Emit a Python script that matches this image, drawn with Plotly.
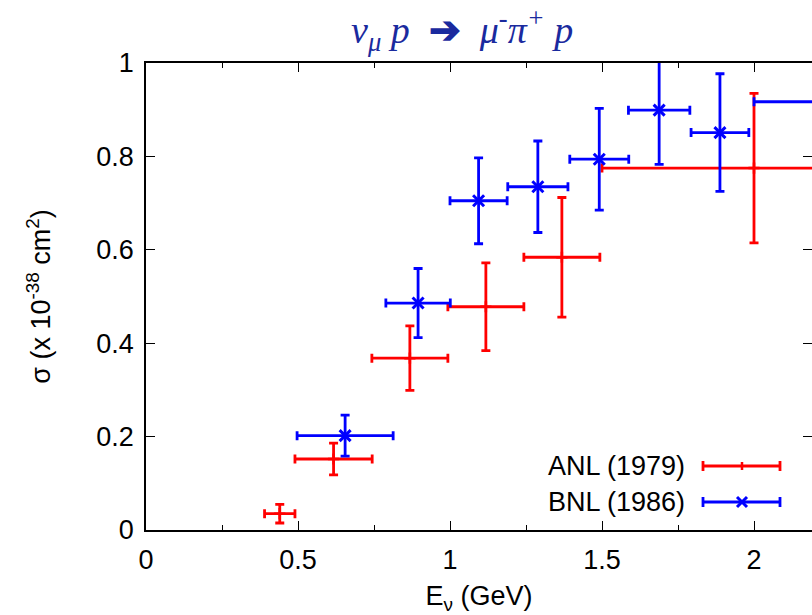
import plotly.graph_objects as go

# ANL (1979)
anl_x = [0.44, 0.617, 0.868, 1.118, 1.368, 2.0]
anl_xerr = [0.05, 0.127, 0.125, 0.125, 0.125, 0.5]
anl_y = [0.035, 0.152, 0.368, 0.478, 0.584, 0.775]
anl_yerr = [0.02, 0.034, 0.069, 0.094, 0.128, 0.16]

# BNL (1986)
bnl_x = [0.655, 0.895, 1.094, 1.289, 1.491, 1.688, 1.888, 2.25]
bnl_xerr = [0.158, 0.106, 0.094, 0.099, 0.097, 0.101, 0.095, 0.25]
bnl_y = [0.202, 0.486, 0.705, 0.735, 0.794, 0.899, 0.851, 0.917]
bnl_yerr = [0.044, 0.074, 0.092, 0.098, 0.109, 0.116, 0.126, 0.1]

x_ticks = [0, 0.5, 1, 1.5, 2]
x_ticklabels = ["0", "0.5", "1", "1.5", "2"]
y_ticks = [0, 0.2, 0.4, 0.6, 0.8, 1]
y_ticklabels = ["0", "0.2", "0.4", "0.6", "0.8", "1"]

RED = "#ff0000"
BLUE = "#0000ff"
FONT = "Liberation Sans"
FS = 27

fig = go.Figure()
fig.add_trace(go.Scatter(
    x=anl_x, y=anl_y, mode="markers", name="ANL (1979)",
    marker=dict(symbol="cross-thin-open", size=8, line=dict(color=RED, width=2.5), color=RED),
    error_x=dict(type="data", array=anl_xerr, color=RED, thickness=2.8, width=4.5),
    error_y=dict(type="data", array=anl_yerr, color=RED, thickness=2.8, width=4.5),
    showlegend=False,
))
fig.add_trace(go.Scatter(
    x=bnl_x, y=bnl_y, mode="markers", name="BNL (1986)",
    marker=dict(symbol="x-thin-open", size=11, line=dict(color=BLUE, width=3), color=BLUE),
    error_x=dict(type="data", array=bnl_xerr, color=BLUE, thickness=2.8, width=4.5),
    error_y=dict(type="data", array=bnl_yerr, color=BLUE, thickness=2.8, width=4.5),
    showlegend=False,
))

W, H = 812, 615
L, R, T, B = 146, 0, 63, 85
pw, ph = W - L - R, H - T - B

def px(xp):
    return (xp - L) / pw

def py(yp):
    return (H - B - yp) / ph

# manual gnuplot-style key
shapes = []
annotations = []
legend_items = [("ANL (1979)", RED, 466, "plus"), ("BNL (1986)", BLUE, 502, "x")]
for label, col, yp, mk in legend_items:
    annotations.append(dict(
        text=label, x=px(687), y=py(yp), xref="paper", yref="paper",
        xanchor="right", yanchor="middle", showarrow=False,
        font=dict(family=FONT, size=FS, color="black")))
    x0, x1, xc = px(703), px(780), px(742)
    shapes.append(dict(type="line", xref="paper", yref="paper", x0=x0, x1=x1,
                       y0=py(yp), y1=py(yp), line=dict(color=col, width=2.8)))
    for xx in (x0, x1):
        shapes.append(dict(type="line", xref="paper", yref="paper", x0=xx, x1=xx,
                           y0=py(yp - 5), y1=py(yp + 5), line=dict(color=col, width=2.8)))
    if mk == "plus":
        shapes.append(dict(type="line", xref="paper", yref="paper", x0=xc, x1=xc,
                           y0=py(yp - 4), y1=py(yp + 4), line=dict(color=col, width=2.5)))
    else:
        shapes.append(dict(type="line", xref="paper", yref="paper", x0=px(737), x1=px(747),
                           y0=py(yp - 5), y1=py(yp + 5), line=dict(color=col, width=3)))
        shapes.append(dict(type="line", xref="paper", yref="paper", x0=px(737), x1=px(747),
                           y0=py(yp + 5), y1=py(yp - 5), line=dict(color=col, width=3)))

annotations.append(dict(
    text="<i>ν<sub>μ</sub> p</i>  <b>➔</b>  <i>μ<sup>-</sup>π<sup>+</sup> p</i>",
    x=px(462), y=py(30), xref="paper", yref="paper",
    xanchor="center", yanchor="middle", showarrow=False,
    font=dict(family="Liberation Serif", size=38, color="#1a2a9e")))

axis_common = dict(
    showgrid=False, zeroline=False, showline=True, linecolor="black", linewidth=1.5,
    mirror="ticks", ticks="inside", tickcolor="black", tickwidth=1.2,
    tickfont=dict(family=FONT, size=FS, color="black"), automargin=False,
)

fig.update_layout(
    width=W, height=H,
    margin=dict(l=L, r=R, t=T, b=B, pad=0, autoexpand=False),
    paper_bgcolor="white", plot_bgcolor="white",
    shapes=shapes, annotations=annotations,
    xaxis=dict(
        range=[0, (W - L) / 304.0], tickvals=x_ticks, ticktext=x_ticklabels,
        ticklen=9, ticklabelstandoff=5,
        minor=dict(dtick=0.25, ticks="inside", ticklen=5, tickcolor="black", tickwidth=1.2),
        title=dict(text="E<sub>ν</sub> (GeV)", font=dict(family=FONT, size=FS, color="black"), standoff=13),
        **axis_common),
    yaxis=dict(
        range=[0, 1], tickvals=y_ticks, ticktext=y_ticklabels,
        ticklen=9, ticklabelstandoff=5,
        title=dict(text="σ (x 10<sup>-38</sup> cm<sup>2</sup>)", font=dict(family=FONT, size=FS, color="black"), standoff=38),
        **axis_common),
)

fig.write_html("out.html", config={"displayModeBar": False},
               post_script="document.body.style.margin='0';document.body.style.overflow='hidden';")
